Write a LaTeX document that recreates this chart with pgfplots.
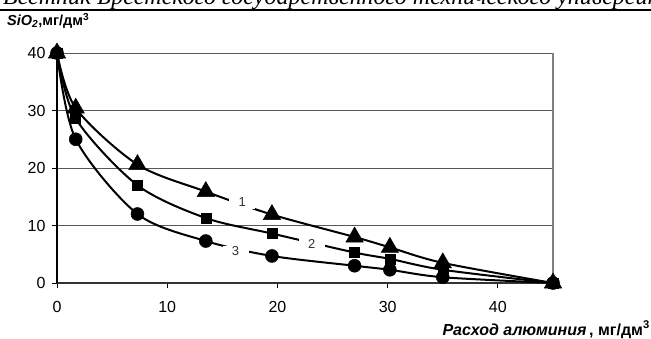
\documentclass[border=0pt]{standalone}
\usepackage{pgfplots}
\pgfplotsset{compat=1.18}
\usepackage{fontspec}
\setmainfont{Liberation Sans}
\newfontfamily\serifit{Liberation Serif}
\begin{document}
\begin{tikzpicture}
\useasboundingbox (0pt,0pt) rectangle (651pt,338pt);
\begin{scope}
\clip (0pt,0pt) rectangle (651pt,338pt);
\node[anchor=base west, inner sep=0pt, font=\serifit\itshape\fontsize{24}{28}\selectfont] at (3pt,333pt) {Вестник Брестского государственного технического университета};
\end{scope}
\draw[line width=2.5pt] (0pt,328pt) -- (651pt,328pt);
\begin{axis}[
  at={(57pt,55pt)}, anchor=south west,
  scale only axis, width=496pt, height=230pt,
  xmin=0, xmax=45, ymin=0, ymax=40,
  xtick={0,10,20,30,40}, ytick={0,10,20,30,40},
  axis x line*=bottom, axis y line*=left,
  x axis line style={-, black!80, line width=1.5pt},
  y axis line style={-, black, line width=1.2pt},
  tick align=outside, major tick length=5pt,
  tick style={black, line width=1pt},
  ymajorgrids, grid style={black!65, line width=1pt},
  /pgf/number format/assume math mode=true,
  ticklabel style={font=\fontsize{16}{19}\selectfont},
  yticklabel style={xshift=-3pt},
  xticklabel style={yshift=-10pt},
  clip=false,
]
\draw[gray, line width=1.5pt] (axis cs:45,0) -- (axis cs:45,40);
\addplot[black, line width=2pt, smooth, mark=*, mark size=6.5pt, mark options={solid, line width=0.5pt}] coordinates {
(0,40) (1.7,25.0) (7.3,12.0) (13.5,7.3) (19.5,4.7) (27,3.0) (30.2,2.3) (35,1.0) (45,0)};
\addplot[black, line width=2pt, smooth, mark=square*, mark size=5pt, mark options={solid, line width=0.5pt}] coordinates {
(0,40) (1.7,28.6) (7.3,17.0) (13.5,11.3) (19.5,8.6) (27,5.3) (30.2,4.2) (35,2.3) (45,0)};
\addplot[black, line width=2pt, smooth, mark=triangle*, mark size=10pt, mark options={solid, line width=0.5pt}] coordinates {
(0,40) (1.7,30.4) (7.3,20.6) (13.5,15.9) (19.5,11.9) (27,8.0) (30.2,6.2) (35,3.5) (45,0)};
\node[fill=white, inner sep=0pt, minimum width=26pt, minimum height=12pt, font=\fontsize{13}{15}\selectfont, text=black!80] at (axis cs:16.8,14.0) {1};
\node[fill=white, inner sep=0pt, minimum width=26pt, minimum height=12pt, font=\fontsize{13}{15}\selectfont, text=black!80] at (axis cs:23.1,6.8) {2};
\node[fill=white, inner sep=0pt, minimum width=26pt, minimum height=10pt, font=\fontsize{13}{15}\selectfont, text=black!80] at (axis cs:16.2,5.6) {3};
\end{axis}
\node[anchor=west, inner sep=0pt, font=\bfseries\fontsize{14.5}{17}\selectfont] at (7pt,317pt) {\textit{SiO\textsubscript{2}},мг/дм\textsuperscript{3}};
\node[anchor=base east, inner sep=0pt, font=\bfseries\fontsize{16}{19}\selectfont] at (650pt,3pt) {\textit{Расход алюминия}\,, мг/дм\textsuperscript{3}};
\end{tikzpicture}
\end{document}
